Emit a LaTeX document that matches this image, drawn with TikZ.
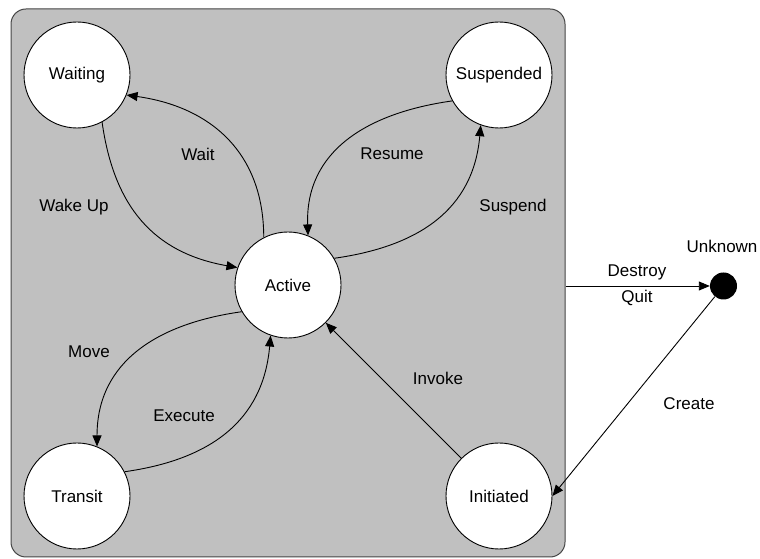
\documentclass[tikz,border=0pt]{standalone}
\usepackage{fontspec}
\setmainfont{Liberation Sans}
\usetikzlibrary{arrows.meta}
\definecolor{panel}{RGB}{192,192,192}
\definecolor{rim}{RGB}{70,70,70}
\begin{document}
\begin{tikzpicture}[x=1pt,y=1pt,
  state/.style={circle,draw=black,line width=0.9pt,fill=white,minimum size=106pt,inner sep=0pt,font=\fontsize{17}{20}\selectfont},
  lbl/.style={font=\fontsize{17}{20}\selectfont,inner sep=0pt},
  arr/.style={-{Triangle[length=11pt,width=9pt]},line width=0.9pt},
  panelbox/.style={draw=rim,line width=1pt,fill=panel,rounded corners=15pt,inner sep=0pt}]
\useasboundingbox (0,0) rectangle (760,559);
\node[panelbox,minimum width=554pt,minimum height=548pt] (frame) at (288,276) {};
\node[state] (Waiting) at (77,484) {Waiting};
\node[state] (Suspended) at (499,484) {Suspended};
\node[state] (Active) at (288,274) {Active};
\node[state] (Transit) at (77,63) {Transit};
\node[state] (Initiated) at (499,63) {Initiated};
\node[circle,fill=black,minimum size=27pt,inner sep=0pt] (Unknown) at (723.5,273) {};
\node[lbl] (lUnknown) at (722,313) {Unknown};
\draw[arr] (Active.117) to[out=90,in=-8,looseness=1.1] (Waiting.-22);
\draw[arr] (Waiting.-62) to[out=-82,in=170,looseness=1.1] (Active.161);
\draw[arr] (Suspended.-151) to[out=188,in=92,looseness=1.1] (Active.68);
\draw[arr] (Active.30) to[out=8,in=-95,looseness=1.1] (Suspended.-110);
\draw[arr] (Active.210) to[out=188,in=90,looseness=1.1] (Transit.68);
\draw[arr] (Transit.27) to[out=8,in=-95,looseness=1.1] (Active.-109);
\draw[arr] (Initiated) -- (Active);
\draw[arr] (Unknown) -- (Initiated.east);
\draw[arr] (frame.east |- Unknown) -- (Unknown);
\node[lbl] (lWait) at (198,405) {Wait};
\node[lbl] (lWake) at (74,352) {Wake Up};
\node[lbl] (lResume) at (392,405) {Resume};
\node[lbl] (lSuspend) at (513,352) {Suspend};
\node[lbl] (lMove) at (89,207) {Move};
\node[lbl] (lExecute) at (184,143) {Execute};
\node[lbl] (lInvoke) at (438,181) {Invoke};
\node[lbl] (lDestroy) at (637,287) {Destroy};
\node[lbl] (lQuit) at (637,261) {Quit};
\node[lbl] (lCreate) at (689,155) {Create};
\end{tikzpicture}
\end{document}
